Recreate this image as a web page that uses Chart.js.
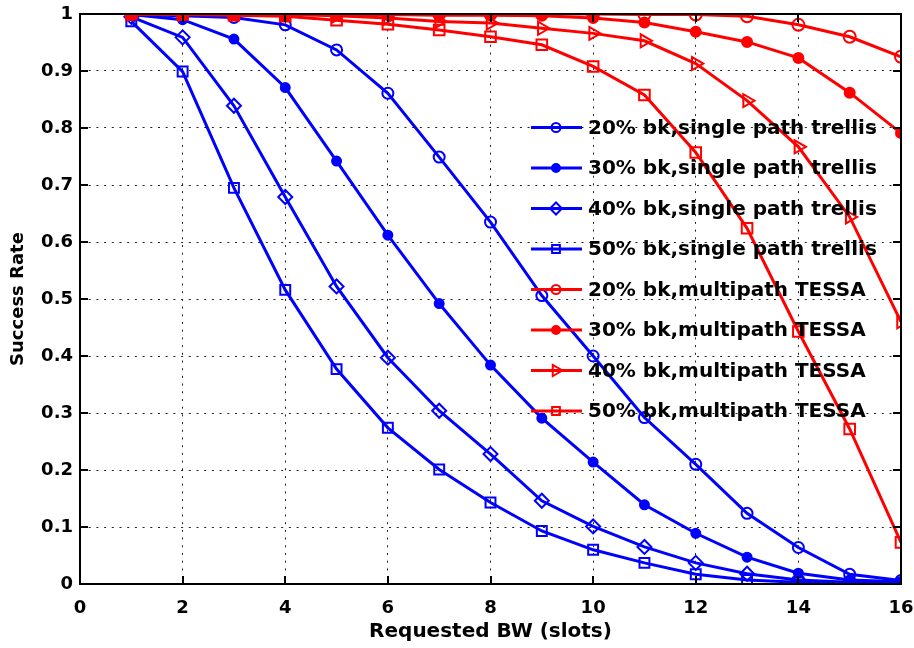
<!DOCTYPE html>
<html>
<head>
<meta charset="utf-8">
<script src="https://cdn.jsdelivr.net/npm/chart.js@4.4.1/dist/chart.umd.min.js"></script>
<style>
  html, body { margin: 0; padding: 0; background: #fff; }
  #wrap { width: 914px; height: 648px; position: relative; }
</style>
</head>
<body>
<div id="wrap"><canvas id="chart"></canvas></div>
<script>
// requested bandwidth (slots)
const requestedBW = [1, 2, 3, 4, 5, 6, 7, 8, 9, 10, 11, 12, 13, 14, 15, 16];

// single path trellis
const trellis20 = [0.999, 0.997, 0.994, 0.981, 0.937, 0.861, 0.749, 0.635, 0.506, 0.400, 0.292, 0.210, 0.124, 0.064, 0.017, 0.006];
const trellis30 = [0.999, 0.990, 0.956, 0.871, 0.742, 0.612, 0.492, 0.384, 0.291, 0.214, 0.139, 0.089, 0.047, 0.019, 0.007, 0.004];
const trellis40 = [0.995, 0.959, 0.839, 0.679, 0.522, 0.397, 0.304, 0.228, 0.146, 0.101, 0.065, 0.037, 0.018, 0.007, 0.003, 0.001];
const trellis50 = [0.987, 0.899, 0.695, 0.516, 0.377, 0.274, 0.201, 0.143, 0.093, 0.060, 0.037, 0.017, 0.007, 0.003, 0.001, 0.000];

// multipath TESSA
const tessa20 = [1.000, 1.000, 1.000, 1.000, 1.000, 1.000, 1.000, 1.000, 1.000, 1.000, 0.999, 0.999, 0.996, 0.981, 0.960, 0.925];
const tessa30 = [1.000, 1.000, 1.000, 1.000, 0.999, 0.999, 0.998, 0.998, 0.997, 0.993, 0.985, 0.969, 0.951, 0.923, 0.862, 0.791];
const tessa40 = [1.000, 1.000, 1.000, 0.999, 0.997, 0.993, 0.987, 0.984, 0.975, 0.966, 0.953, 0.913, 0.848, 0.767, 0.644, 0.460];
const tessa50 = [1.000, 0.999, 0.998, 0.996, 0.989, 0.982, 0.972, 0.960, 0.946, 0.908, 0.858, 0.757, 0.624, 0.443, 0.272, 0.073];

const seriesLabels = [
  "20% bk,single path trellis",
  "30% bk,single path trellis",
  "40% bk,single path trellis",
  "50% bk,single path trellis",
  "20% bk,multipath TESSA",
  "30% bk,multipath TESSA",
  "40% bk,multipath TESSA",
  "50% bk,multipath TESSA"
];
const seriesValues = [trellis20, trellis30, trellis40, trellis50, tessa20, tessa30, tessa40, tessa50];

const xTicks = [0, 2, 4, 6, 8, 10, 12, 14, 16];
const yTicks = [0, 0.1, 0.2, 0.3, 0.4, 0.5, 0.6, 0.7, 0.8, 0.9, 1];

const BLUE = "#0000ff";
const RED = "#ff0000";

// marker look per series: [style, radius, filled, rotation, legendRadius]
const markers = [
  ["circle", 5.5, false, 0, 4.5],
  ["circle", 4.5, true, 0, 4],
  ["rectRot", 7, false, 0, 6],
  ["rect", 7, false, 0, 5.5],
  ["circle", 6, false, 0, 4.5],
  ["circle", 5, true, 0, 4],
  ["triangle", 7.5, false, 90, 6.5],
  ["rect", 7.5, false, 0, 5.5]
];

const FONT = "'DejaVu Sans', sans-serif";

const datasets = seriesValues.map((vals, i) => {
  const color = i < 4 ? BLUE : RED;
  const m = markers[i];
  return {
    label: seriesLabels[i],
    data: vals.map((v, k) => ({ x: requestedBW[k], y: v })),
    borderColor: color,
    backgroundColor: color,
    borderWidth: 3,
    pointStyle: m[0],
    pointRadius: m[1],
    pointRotation: m[3],
    pointBorderWidth: 2,
    pointBorderColor: color,
    pointBackgroundColor: m[2] ? color : "rgba(0,0,0,0)",
    legendRadius: m[4],
    tension: 0,
    order: 8 - i
  };
});

// box around plot with inward ticks (matlab style)
const framePlugin = {
  id: "frame",
  afterDatasetsDraw(chart) {
    const { ctx, chartArea: a, scales } = chart;
    ctx.save();
    ctx.strokeStyle = "#000";
    ctx.lineWidth = 2;
    ctx.setLineDash([]);
    ctx.strokeRect(a.left, a.top, a.right - a.left, a.bottom - a.top);
    const tl = 8;
    ctx.beginPath();
    xTicks.forEach(t => {
      const px = Math.round(scales.x.getPixelForValue(t));
      ctx.moveTo(px, a.bottom); ctx.lineTo(px, a.bottom - tl);
      ctx.moveTo(px, a.top); ctx.lineTo(px, a.top + tl);
    });
    yTicks.forEach(t => {
      const py = Math.round(scales.y.getPixelForValue(t));
      ctx.moveTo(a.left, py); ctx.lineTo(a.left + tl, py);
      ctx.moveTo(a.right, py); ctx.lineTo(a.right - tl, py);
    });
    ctx.stroke();
    ctx.restore();
  }
};

// legend drawn inside the plot area, no box
const legendPlugin = {
  id: "insideLegend",
  afterDraw(chart) {
    const { ctx } = chart;
    const x0 = 531, x1 = 582, xm = 556, xt = 588;
    const top = 127.5, step = 40.5;
    ctx.save();
    chart.data.datasets.forEach((ds, i) => {
      const y = top + i * step;
      ctx.strokeStyle = ds.borderColor;
      ctx.lineWidth = 3;
      ctx.beginPath();
      ctx.moveTo(x0, y); ctx.lineTo(x1, y);
      ctx.stroke();
      ctx.lineWidth = 2;
      ctx.fillStyle = ds.pointBackgroundColor;
      Chart.helpers.drawPoint(ctx, {
        pointStyle: ds.pointStyle,
        radius: ds.legendRadius,
        rotation: ds.pointRotation,
        borderWidth: 2
      }, xm, y);
      ctx.fillStyle = "#000";
      ctx.font = "bold 20px " + FONT;
      ctx.textBaseline = "middle";
      ctx.textAlign = "left";
      ctx.fillText(ds.label, xt, y + 1);
    });
    ctx.restore();
  }
};

new Chart(document.getElementById("chart"), {
  type: "line",
  data: { datasets },
  plugins: [framePlugin, legendPlugin],
  options: {
    responsive: true,
    maintainAspectRatio: false,
    animation: false,
    layout: { padding: { top: 14, right: 13, left: 0, bottom: 0 } },
    plugins: {
      legend: { display: false },
      title: { display: false },
      tooltip: { enabled: false }
    },
    scales: {
      x: {
        type: "linear",
        min: 0,
        max: 16,
        afterBuildTicks: s => { s.ticks = xTicks.map(v => ({ value: v })); },
        afterFit: s => { s.height = 64; s.paddingLeft = 0; s.paddingRight = 0; },
        ticks: {
          color: "#000",
          font: { family: FONT, size: 18, weight: "bold" },
          padding: 14,
          callback: v => String(v)
        },
        grid: { color: "#222", lineWidth: 1, drawTicks: false },
        border: { display: true, color: "#000", width: 2, dash: [2, 5.7] },
        title: {
          display: true,
          text: "Requested BW (slots)",
          color: "#000",
          font: { family: FONT, size: 20, weight: "bold" },
          padding: { top: 0, bottom: 4 }
        }
      },
      y: {
        type: "linear",
        min: 0,
        max: 1,
        afterBuildTicks: s => { s.ticks = yTicks.map(v => ({ value: v })); },
        afterFit: s => { s.width = 80; s.paddingTop = 0; s.paddingBottom = 0; },
        ticks: {
          color: "#000",
          font: { family: FONT, size: 18, weight: "bold" },
          padding: 7,
          callback: v => String(Math.round(v * 10) / 10)
        },
        grid: { color: "#222", lineWidth: 1, drawTicks: false },
        border: { display: true, color: "#000", width: 2, dash: [2, 5.7] },
        title: {
          display: true,
          text: "Success Rate",
          color: "#000",
          font: { family: FONT, size: 18, weight: "bold" },
          padding: { top: 8, bottom: 0 }
        }
      }
    }
  }
});
</script>
</body>
</html>
